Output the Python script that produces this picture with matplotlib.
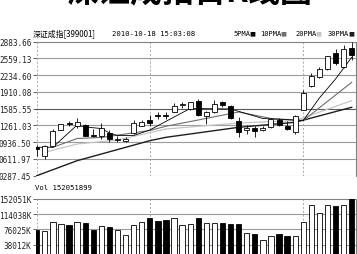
import numpy as np, matplotlib
matplotlib.use('Agg')
import matplotlib.pyplot as plt

# daily candles
opens  = [853, 675, 863, 1179, 1299, 1250, 1270, 1080, 1057, 1124,
          979, 969, 1115, 1250, 1357, 1464, 1467, 1527, 1648, 1580,
          1735, 1444, 1522, 1706, 1638, 1347, 1173, 1221, 1177, 1231,
          1376, 1241, 1134, 1570, 2020, 2194, 2355, 2674, 2394, 2762]
highs  = [882, 875, 1192, 1295, 1338, 1400, 1289, 1183, 1299, 1173,
          1057, 1037, 1367, 1376, 1454, 1512, 1522, 1696, 1715, 1725,
          1764, 1541, 1754, 1744, 1657, 1425, 1279, 1250, 1260, 1415,
          1405, 1347, 1464, 1948, 2268, 2384, 2616, 2742, 2829, 2878]
lows   = [669, 611, 853, 1170, 1241, 1221, 1057, 1028, 999, 940,
          940, 940, 1105, 1241, 1250, 1386, 1386, 1512, 1599, 1570,
          1444, 1289, 1502, 1619, 1386, 1037, 1095, 1037, 1163, 1221,
          1250, 1173, 1095, 1560, 2006, 2180, 2335, 2432, 2374, 2529]
closes = [805, 869, 1159, 1289, 1280, 1322, 1062, 1066, 1202, 989,
          1008, 1002, 1299, 1328, 1309, 1444, 1444, 1638, 1667, 1715,
          1454, 1527, 1677, 1657, 1396, 1134, 1217, 1144, 1217, 1386,
          1279, 1192, 1444, 1890, 2213, 2355, 2597, 2471, 2733, 2626]
volumes = [73490, 72000, 94800, 90500, 87900, 94800, 93000, 73500, 84600, 82100,
           73500, 60800, 86200, 94800, 104900, 97300, 98800, 105700, 86200, 90500,
           105700, 93000, 93000, 93000, 90500, 90500, 66900, 63400, 49900, 59300,
           63400, 59300, 59300, 94800, 136800, 115800, 136800, 134300, 136800, 152051]

# moving averages as read (candle index, value)
ma5_idx  = [0, 2, 5, 6, 8, 9, 10, 12, 14, 19, 24, 28, 33, 35, 37, 39]
ma5_val  = [838, 838, 1270, 1231, 1202, 1115, 1066, 1066, 1173, 1590, 1580, 1396, 1357, 1793, 2161, 2581]
ma10_idx = [2, 5, 8, 14, 16, 20, 25, 29, 33, 39]
ma10_val = [838, 1008, 1028, 1163, 1245, 1367, 1522, 1396, 1357, 2097]
ma20_idx = [1, 5, 10, 16, 25, 32, 39]
ma20_val = [741, 902, 979, 1192, 1309, 1353, 1741]
ma30_idx = [0, 5, 14, 16, 25, 32, 39]
ma30_val = [287, 578, 966, 1031, 1225, 1322, 1613]

price_ticks = [287.45, 611.97, 936.50, 1261.03, 1585.55, 1910.08, 2234.60, 2559.13, 2883.66]
price_labels = ['0287.45', '0611.97', '0936.50', '1261.03', '1585.55',
                '1910.08', '2234.60', '2559.13', '2883.66']
vol_ticks = [38012, 76025, 114038, 152051]
vol_labels = ['38012K', '76025K', '114038K', '152051K']
month_marks = [0, 14, 33]

W, H = 357, 255
fig = plt.figure(figsize=(W / 100, H / 100), dpi=100)

def px_axes(l, t, r, b):
    return fig.add_axes([l / W, 1 - b / H, (r - l) / W, (b - t) / H])

ax = px_axes(35.5, 42.7, 355.5, 176.7)
axv = px_axes(35.5, 200, 355.5, 260.7)

x = np.arange(len(opens))
o, hi, lo, c = map(np.array, (opens, highs, lows, closes))
up = c >= o
fill = np.where(up, 'white', 'black')
grid_c = '#9a9a9a'
mono = 'DejaVu Sans Mono'

for a in (ax, axv):
    a.set_xlim(-0.15, 39.47)
    a.set_xticks([])
    for s in ('left', 'bottom'):
        a.spines[s].set_visible(False)
    for s in ('top', 'right'):
        a.spines[s].set_color('#808080')
        a.spines[s].set_linewidth(0.8)
    for m in month_marks:
        a.axvline(m, color='#a8a8a8', lw=0.7, ls=(0, (2, 2)), zorder=1)
    a.tick_params(axis='y', length=2, width=0.5, pad=1, labelsize=5.6, colors='#222')

# price panel
ax.set_ylim(price_ticks[0], price_ticks[-1])
ax.set_yticks(price_ticks)
ax.set_yticklabels(price_labels, family=mono)
for t in price_ticks[:-1]:
    ax.axhline(t, color='#5a5a5a' if t == 1585.55 else grid_c, lw=0.8, zorder=1)

ax.plot(ma30_idx, ma30_val, color='#1e1e1e', lw=1.0, zorder=2)
ax.plot(ma20_idx, ma20_val, color='#c4c4c4', lw=0.9, zorder=2)
ax.plot(ma10_idx, ma10_val, color='#6e6e6e', lw=0.8, zorder=2)
ax.plot(ma5_idx, ma5_val, color='black', lw=0.6, zorder=2)

ax.vlines(x, lo, hi, color='black', lw=0.6, zorder=3)
body_h = np.maximum(np.abs(c - o), 12)
ax.bar(x, body_h, bottom=np.minimum(o, c), width=0.62, color=fill,
       edgecolor='black', linewidth=0.6, zorder=4)

# volume panel
axv.set_ylim(0, 152051)
axv.set_yticks(vol_ticks)
axv.set_yticklabels(vol_labels, family=mono)
for t in vol_ticks[:-1]:
    axv.axhline(t, color=grid_c, lw=0.8, zorder=1)
axv.bar(x, volumes, width=0.66, color=fill, edgecolor='black', linewidth=0.6, zorder=3)

# header texts (big title is cut by the top edge, as in the source)
cjk = ['Noto Sans CJK SC', 'DejaVu Sans']
fig.text(66 / W, 1 - 1.0 / H, '深证成指日K线图', family=cjk, fontsize=23,
         fontweight='bold', ha='left', va='baseline', color='black')
fig.text(33 / W, 1 - 36 / H, '深证成指[399001]', family=cjk, fontsize=5.7, va='baseline')
fig.text(112 / W, 1 - 36 / H, '2010-10-18 15:03:08', family=mono, fontsize=5.2, va='baseline')
legend_items = [('5PMA', 233, 'black'), ('10PMA', 260, '#6e6e6e'),
                ('20PMA', 295, '#c4c4c4'), ('30PMA', 328, '#1e1e1e')]
for name, px, col in legend_items:
    fig.text(px / W, 1 - 36 / H, name, family=mono, fontsize=5.0, va='baseline')
    fig.text((px + len(name) * 3.9 + 0.5) / W, 1 - 35.5 / H, '■', family='DejaVu Sans',
             fontsize=4.5, va='baseline', color=col)
fig.text(35 / W, 1 - 190 / H, 'Vol 152051899', family=mono, fontsize=5.2, va='baseline')

fig.savefig('out.png', dpi=100)
